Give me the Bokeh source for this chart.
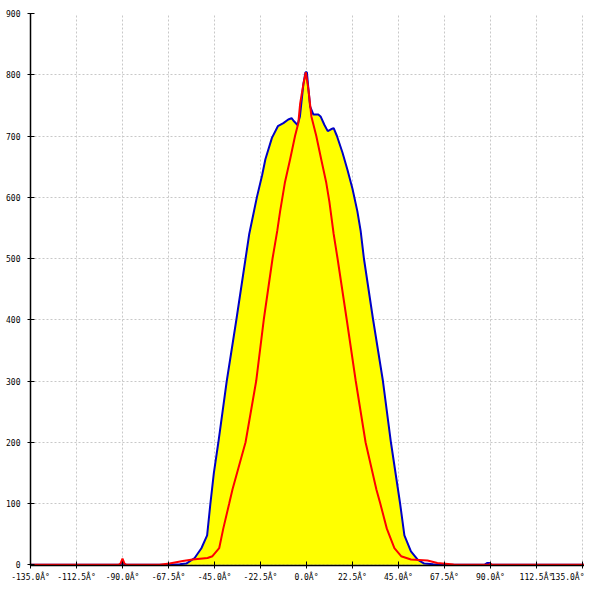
from bokeh.plotting import figure
from bokeh.models import FixedTicker, Range1d
from bokeh.embed import file_html
from bokeh.resources import INLINE

# Angle distribution (yellow area, blue outline)
blue_x = [-135, -92, -91, -90, -89, -88, -70, -67, -62, -58.8, -54.7, -51.4, -48.6, -47.0, -45.3,
          -43.1, -39.0, -34.3, -29.8, -28, -24.2, -21.7, -20.1, -16.9, -14, -11.3, -8.9, -7.3,
          -6.1, -4.4, -3.2, -1.5, -0.5, 0.2, 1, 1.8, 3.4, 5.8, 6.9, 8.8, 10.4, 12, 13.3, 14.9,
          17.6, 20.1, 22.5, 24.9, 26.5, 28.1, 32.6, 37.4, 41.3, 45.8, 47.9, 51.1, 54.4, 57.6,
          62, 67.3, 87, 88.5, 89.5, 90.5, 92, 141]
blue_y = [0, 0, 0, 5, 0, 0, 0, 0, 1, 2, 11, 27, 48, 100, 150,
          200, 300, 400, 500, 540, 601, 636, 662, 697, 716, 721, 727, 729,
          724, 718, 732, 785, 804, 804, 775, 748, 735, 735, 732, 718, 708, 711, 713, 700,
          673, 644, 614, 577, 545, 500, 400, 300, 200, 100, 48, 22, 8.5, 2,
          0.8, 0.3, 0, 3, 3, 0, 0, 0]

# Second series (red line)
red_x = [-135, -92, -91, -90, -89, -88, -75, -72, -67, -60.5, -55.7, -48.4, -46, -42.7, -40.7,
         -37.8, -36.2, -29.8, -24.6, -20.9, -16.6, -14.3, -12.9, -10.5, -8, -5.6, -4, -3.1, -1.5,
         -0.3, 1, 2.4, 4.8, 7.2, 9.6, 11.2, 13.3, 15.2, 19.7, 24.1, 28.9, 34.2, 36.1, 39.3,
         43, 46.3, 51.1, 59.2, 64, 72, 88, 89.5, 90, 90.5, 92, 141]
red_y = [0, 0, 2, 10, 2, 0, 0, 0, 2, 6, 8.5, 11, 14, 27, 59,
         100, 123, 200, 300, 400, 500, 545, 577, 625, 662, 700, 721, 753, 785,
         804, 775, 732, 700, 662, 625, 593, 540, 500, 400, 300, 200, 123, 100, 59,
         27, 14, 8.5, 7, 3, 0.5, 0, 0, 2, 0, 0, 0]

x_ticks = [-135, -112.5, -90, -67.5, -45, -22.5, 0, 22.5, 45, 67.5, 90, 112.5, 135]
x_tick_labels = ["-135.0Â°", "-112.5Â°", "-90.0Â°", "-67.5Â°", "-45.0Â°", "-22.5Â°", "0.0Â°",
                 "22.5Â°", "45.0Â°", "67.5Â°", "90.0Â°", "112.5Â°", "135.0Â°"]
y_ticks = [0, 100, 200, 300, 400, 500, 600, 700, 800, 900]

p = figure(width=584, height=584, output_backend="svg", toolbar_location=None,
           x_range=Range1d(-135, 136), y_range=Range1d(-1.2, 900),
           min_border_left=30, min_border_top=13, min_border_right=0, min_border_bottom=0)
p.outline_line_color = None
p.background_fill_color = "white"
p.border_fill_color = "white"

p.varea(x=blue_x, y1=0, y2=blue_y, fill_color="#ffff00")
p.line(blue_x, blue_y, line_color="#0000c8", line_width=2)
p.line(red_x, red_y, line_color="#ff0000", line_width=2)

for ax in (p.xaxis[0], p.yaxis[0]):
    ax.axis_line_color = "black"
    ax.axis_line_width = 1.5
    ax.major_tick_line_color = "black"
    ax.major_tick_out = 3
    ax.major_tick_in = 4
    ax.minor_tick_line_color = None
    ax.major_label_text_font = "DejaVu Sans Mono"
    ax.major_label_text_font_size = "8px"
    ax.major_label_text_color = "black"

p.xaxis.ticker = FixedTicker(ticks=x_ticks)
p.xaxis.major_label_overrides = {t: l for t, l in zip(x_ticks, x_tick_labels)}
p.xaxis.major_label_standoff = 4
p.yaxis.ticker = FixedTicker(ticks=y_ticks)
p.yaxis.major_label_standoff = 7

p.grid.grid_line_color = "#c8c8c8"
p.grid.grid_line_dash = "2 2"
p.grid.grid_line_width = 1

open("out.html", "w").write(file_html(p, INLINE))
